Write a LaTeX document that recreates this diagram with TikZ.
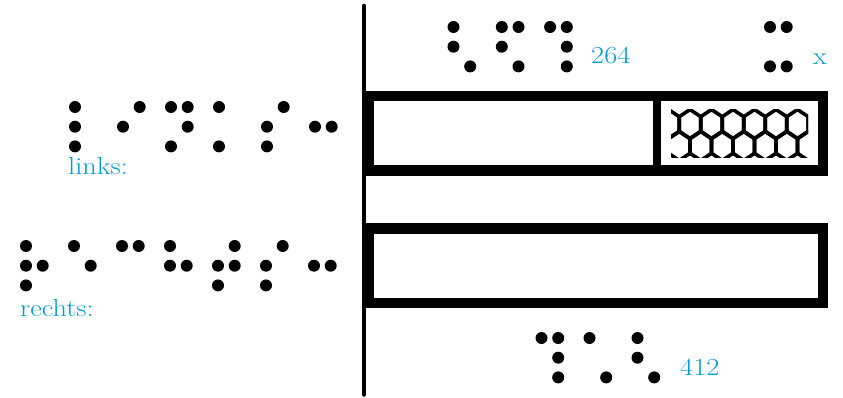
\documentclass[tikz,border=0pt]{standalone}
\usepackage{tikz}
\definecolor{textblue}{RGB}{0,155,215}
\newcommand{\brl}[3]{%
  \edef\brlist{#3}%
  \foreach \d in \brlist {%
    \pgfmathtruncatemacro{\brcol}{(\d-1)/3}%
    \pgfmathtruncatemacro{\brrow}{mod(\d-1,3)}%
    \fill ({#1+16.7*\brcol},{#2+19.7*\brrow}) circle (6pt);}}
\newcommand{\wide}[1]{\scalebox{1.16}[1]{#1}}

\begin{document}
\begin{tikzpicture}[x=1pt,y=-1pt,
  lbl/.style={text=textblue,inner sep=0pt,anchor=base west,font=\fontsize{24.5}{30}\selectfont},
  bar/.style={line width=10.5pt},
  hex/.style={line width=3.6pt,line join=round}]
  \useasboundingbox (0,0) rectangle (843,398);
  \draw[line width=3.5pt,line cap=round] (364,5.5) -- (364,395);
  \draw[bar] (369,96) rectangle (823,170.5);
  \draw[line width=8pt] (657,96) -- (657,170.5);
  \draw[bar] (369,228.5) rectangle (823,303);
  \begin{scope}
    \clip (671,110) rectangle (808,158);
    \foreach \yy/\xo in {124/668.5,146/657.75}
      \foreach \k in {0,...,7}
        \draw[hex,shift={({\xo+21.5*\k},\yy)}] (0,-14.5) -- (10.75,-7.25) -- (10.75,7.25) -- (0,14.5) -- (-10.75,7.25) -- (-10.75,-7.25) -- cycle;
  \end{scope}
  \foreach \cell [count=\i from 0] in {{1,2,3},{2,4},{1,3,4,5},{1,3},{2,3,4},{2,5}}
    \brl{75+48*\i}{107}{\cell};
  \foreach \cell [count=\i from 0] in {{1,2,3,5},{1,5},{1,4},{1,2,5},{2,3,4,5},{2,3,4},{2,5}}
    \brl{26+48*\i}{246}{\cell};
  \foreach \cell [count=\i from 0] in {{1,2,6},{1,2,4,6},{1,4,5,6}}
    \brl{453.5+48.3*\i}{27}{\cell};
  \brl{770}{27}{1,3,4,6};
  \foreach \cell [count=\i from 0] in {{1,4,5,6},{1,6},{1,2,6}}
    \brl{541.5+48*\i}{338}{\cell};
  \node[lbl] (links) at (68,175) {\wide{links:}};
  \node[lbl] (rechts) at (20,316) {\wide{rechts:}};
  \node[lbl] (n264) at (591,63.5) {\wide{264}};
  \node[lbl] (nx) at (813,65) {\wide{x}};
  \node[lbl] (n412) at (680,375) {\wide{412}};
\end{tikzpicture}
\end{document}
